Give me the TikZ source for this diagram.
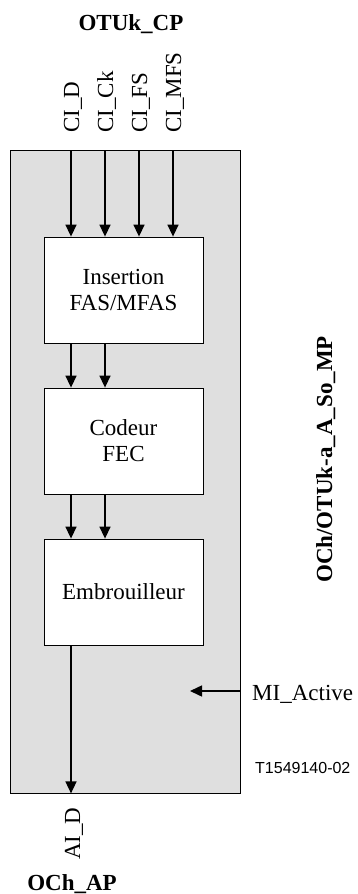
\documentclass[tikz,border=0pt]{standalone}
\usepackage{fontspec}
\setmainfont{Liberation Serif}
\newfontfamily\figsans{Liberation Sans}
\usetikzlibrary{arrows.meta}

\begin{document}
\begin{tikzpicture}[
  x=1pt, y=-1pt,
  font=\fontsize{23}{26}\selectfont,
  unit/.style={
    draw,
    line width=0.8pt,
    fill=gray!25,
    minimum width=230pt,
    minimum height=643pt,
    inner sep=0pt
  },
  block/.style={
    draw,
    line width=0.8pt,
    fill=white,
    align=center,
    minimum width=159pt,
    minimum height=106pt,
    inner sep=0pt
  },
  signal/.style={rotate=90, anchor=base west, inner sep=0pt},
  title/.style={font=\fontsize{23}{26}\selectfont\bfseries, inner sep=0pt},
  flow/.style={-{Triangle[length=12pt,width=11pt]}, line width=1.5pt}
]
\useasboundingbox (0,0) rectangle (358,894);

% Function box
\node[unit] (unit) at (125, 471.5) {};

\node[block] (ins) at (123.5, 290) {Insertion\\FAS/MFAS};
\node[block] (cod) at (123.5, 441) {Codeur\\FEC};
\node[block] (emb) at (123.5, 592) {Embrouilleur};

% Signal columns
\coordinate (colD) at (71, 150);
\coordinate (colCk) at (105, 150);
\coordinate (colFS) at (139, 150);
\coordinate (colMFS) at (173, 150);
\coordinate (miEnd) at (190, 691);

% Flow arrows
\draw[flow] (colD) -- (ins.north -| colD);
\draw[flow] (colCk) -- (ins.north -| colCk);
\draw[flow] (colFS) -- (ins.north -| colFS);
\draw[flow] (colMFS) -- (ins.north -| colMFS);

\draw[flow] (ins.south -| colD) -- (cod.north -| colD);
\draw[flow] (ins.south -| colCk) -- (cod.north -| colCk);
\draw[flow] (cod.south -| colD) -- (emb.north -| colD);
\draw[flow] (cod.south -| colCk) -- (emb.north -| colCk);
\draw[flow] (emb.south -| colD) -- (unit.south -| colD);

\draw[flow] (unit.east |- miEnd) -- (miEnd);

% Labels
\node[title, anchor=base] (otukCP) at (131, 30) {OTUk\_CP};
\node[signal] (ciD) at (79, 133) {CI\_D};
\node[signal] (ciCk) at (113, 133) {CI\_Ck};
\node[signal] (ciFS) at (147, 133) {CI\_FS};
\node[signal] (ciMFS) at (181, 133) {CI\_MFS};

\node[signal] (aiD) at (80, 860) {AI\_D};
\node[title, anchor=base] (ochAP) at (72, 890) {OCh\_AP};

\node[title, rotate=90, anchor=base west] (fname) at (332, 583) {OCh/OTUk-a\_A\_So\_MP};
\node[anchor=base west, inner sep=0pt] (miActive) at (252, 700) {MI\_Active};
\node[anchor=base west, inner sep=0pt, font=\figsans\fontsize{16}{18}\selectfont] (figNo) at (255, 773) {T1549140-02};

\end{tikzpicture}
\end{document}
